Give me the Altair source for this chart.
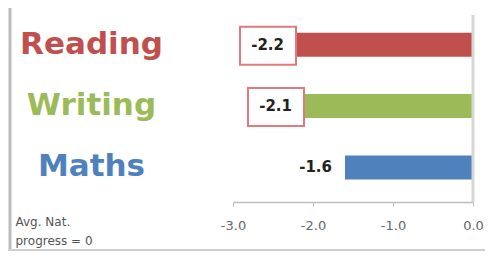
import altair as alt
import pandas as pd

subjects = ["Reading", "Writing", "Maths"]
values = [-2.2, -2.1, -1.6]
colors = ["#c0504d", "#9bbb59", "#4f81bd"]
boxed = [True, True, False]
x_ticks = [-3.0, -2.0, -1.0, 0.0]

df = pd.DataFrame({"subject": subjects, "value": values, "color": colors, "boxed": boxed})

label_color_expr = " : ".join(
    f"datum.value == '{s}' ? '{c}'" for s, c in zip(subjects, colors)
) + " : '#333'"

y_enc = alt.Y(
    "subject:N",
    sort=subjects,
    scale=alt.Scale(paddingInner=0.61, paddingOuter=0.33, align=0.44),
    axis=alt.Axis(
        title=None, domain=False, ticks=False,
        labelAlign="center", labelPadding=142,
        labelFont="DejaVu Sans", labelFontSize=31, labelFontWeight="bold",
        labelColor={"expr": label_color_expr},
    ),
)
x_enc = alt.X(
    "value:Q",
    scale=alt.Scale(domain=[-3, 0], nice=False),
    axis=alt.Axis(
        values=x_ticks, format=".1f", grid=False, labelFlush=False,
        labelExpr="replace(datum.label, '\u2212', '-')",
        domainColor="#bdbdbd", domainWidth=1.5, tickColor="#bdbdbd", tickSize=4,
        labelColor="#666", labelFontSize=13, labelFont="DejaVu Sans", labelPadding=13,
        title=["Avg. Nat.", "progress = 0"], titleFont="DejaVu Sans",
        titleFontSize=12, titleFontWeight="normal", titleColor="#555",
        titleX=-218, titleY=14, titleAlign="left", titleBaseline="top",
        titleLineHeight=19, titleAnchor="start", titleAngle=0,
    ),
)

base = alt.Chart(df)

bars = base.mark_bar(size=24).encode(
    x=x_enc, y=y_enc,
    color=alt.Color("color:N", scale=None),
)

labels = base.transform_calculate(
    lbl="replace(format(datum.value, '.1f'), '\u2212', '-')"
).mark_text(align="right", dx=-13, font="DejaVu Sans", fontSize=15,
            fontWeight="bold", color="#222").encode(
    x="value:Q", y=alt.Y("subject:N", sort=subjects), text="lbl:N"
)

boxes = base.transform_filter("datum.boxed").mark_point(
    shape="M-1,-0.68L1,-0.68L1,0.68L-1,0.68Z", filled=False, stroke="#e07a7c",
    strokeWidth=2, size=3136, xOffset=-29, yOffset=1, opacity=1,
).encode(x="value:Q", y=alt.Y("subject:N", sort=subjects))

zero = alt.Chart(pd.DataFrame({"z": [0]})).mark_rule(color="#d6d6d6", strokeWidth=3).encode(
    x="z:Q"
)

left_border = alt.Chart(pd.DataFrame({"a": [0]})).mark_rule(color="#bdbdbd", strokeWidth=3).encode(
    x=alt.value(-223), y=alt.value(-7), y2=alt.value(236)
)
bottom_border = alt.Chart(pd.DataFrame({"a": [0]})).mark_rule(color="#cfcfcf", strokeWidth=2).encode(
    x=alt.value(-225), x2=alt.value(252), y=alt.value(235)
)

chart = alt.layer(bars, labels, boxes, zero, left_border, bottom_border).properties(
    width=240, height=187,
    autosize=alt.AutoSizeParams(type="none"),
    padding={"left": 225, "top": 7, "right": 12, "bottom": 49},
).configure_view(stroke=None)

chart.save("out.html", embed_options={"renderer": "svg", "actions": False})
